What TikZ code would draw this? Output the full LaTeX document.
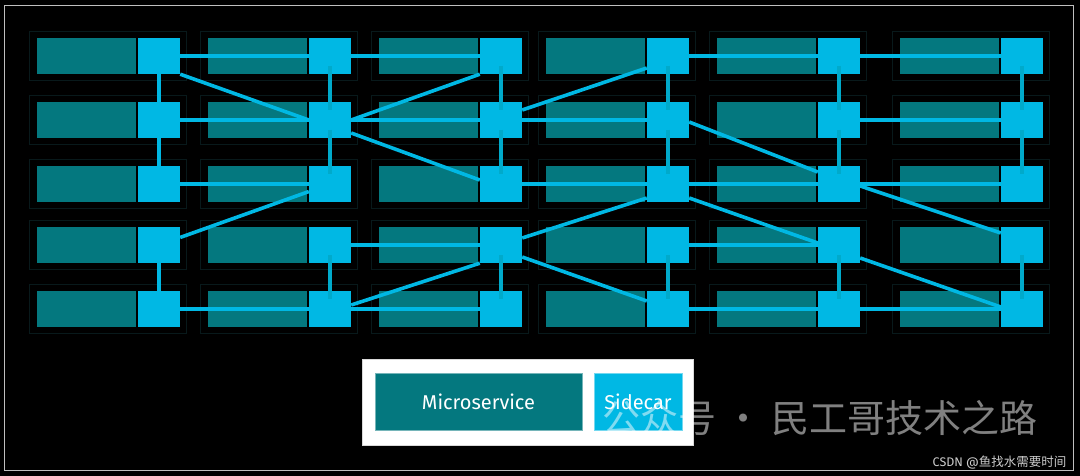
\documentclass[tikz,border=0pt]{standalone}
\usepackage{fontspec}
\setsansfont{Fira Sans}
\newfontfamily\cjkfont{Noto Sans CJK SC}
\usepackage{tikz}
\usetikzlibrary{backgrounds}
\definecolor{msteal}{HTML}{04787F}
\definecolor{sccyan}{HTML}{00B8E4}
\definecolor{vcyan}{HTML}{00AACB}
\definecolor{podline}{HTML}{08191B}
\tikzset{
  font=\sffamily,
  pod/.style={
    draw=podline, line width=0.8pt, inner sep=0pt,
    minimum width=157pt, minimum height=49pt
  },
  micro/.style={fill=msteal, inner sep=0pt, minimum width=99pt, minimum height=36pt},
  sidecar/.style={fill=sccyan, inner sep=0pt, minimum width=42pt, minimum height=36pt},
  wire/.style={draw=sccyan, line width=3.6pt},
  vwire/.style={draw=vcyan, line width=4pt},
  keybox/.style={
    draw=#1!55!white, fill=#1, text=white, inner sep=0pt,
    minimum height=57pt, font=\sffamily\fontsize{20}{23}\selectfont
  }
}
\begin{document}
\begin{tikzpicture}[x=1pt,y=-1pt]
  \useasboundingbox (0,0) rectangle (1080,476);
  \begin{pgfonlayer}{background}
    \fill[black] (0,0) rectangle (1080,476);
  \end{pgfonlayer}
  \draw[black!25!white, line width=1.5pt] (4.5,5.5) rectangle (1073.5,470.5);
  \foreach \c/\mx/\sx in {1/86.5/159, 2/257.5/330, 3/428.5/501, 4/595.5/668, 5/766.5/839, 6/949.5/1022} {
    \foreach \r/\y in {1/56, 2/120, 3/184, 4/245, 5/309} {
      \begin{pgfonlayer}{background}
        \node[pod] (pod\c\r) at (\mx+21.5,\y) {};
        \node[micro] (ms\c\r) at (\mx,\y) {};
      \end{pgfonlayer}
      \node[sidecar] (sc\c\r) at (\sx,\y) {};
    }
  }
  \begin{pgfonlayer}{background}
    \foreach \a/\b in {11/21, 21/31, 41/51, 51/61, 12/22, 22/32, 32/42, 52/62,
      13/23, 33/43, 43/53, 53/63, 24/34, 44/54, 15/25, 25/35, 45/55, 55/65,
      11/12, 12/13, 14/15}
      \draw[wire] (sc\a) -- (sc\b);
    % cross links
    \draw[wire] (sc11.south east) -- (sc22.west);
    \draw[wire] (sc14) -- (sc23);
    \draw[wire] (sc22.east) -- (sc31.south west);
    \draw[wire] ([yshift=-13pt]sc22.east) -- ([yshift=4pt]sc33.west);
    \draw[wire] ([yshift=4pt]sc25.east) -- (sc34.south west);
    \draw[wire] ([yshift=10pt]sc32.east) -- ([yshift=-12pt]sc41.west);
    \draw[wire] ([yshift=7pt]sc34.east) -- ([yshift=-14pt]sc43.west);
    \draw[wire] ([yshift=-12pt]sc34.east) -- ([yshift=8pt]sc45.west);
    \draw[wire] ([yshift=-2pt]sc42.east) -- ([yshift=12pt]sc53.west);
    \draw[wire] ([yshift=-14pt]sc43.east) -- ([yshift=2pt]sc54.west);
    \draw[wire] ([yshift=-2pt]sc53.east) -- ([yshift=12pt]sc64.west);
    \draw[wire] ([yshift=-13pt]sc54.east) -- ([yshift=2pt]sc65.west);
  \end{pgfonlayer}
  \foreach \c in {2,...,6} {
    \draw[vwire] ([yshift=-10pt]sc\c1.center) -- ([yshift=10pt]sc\c2.center);
    \draw[vwire] ([yshift=-10pt]sc\c2.center) -- ([yshift=10pt]sc\c3.center);
    \draw[vwire] ([yshift=-10pt]sc\c4.center) -- ([yshift=10pt]sc\c5.center);
  }
  \node[fill=white, draw=black!15, minimum width=331pt, minimum height=86pt] (key) at (527.5,402) {};
  \node[keybox=msteal, minimum width=207pt] (keyms) at (478.5,401.5) {Microservice};
  \node[keybox=sccyan, minimum width=88pt] (keysc) at (638,401.5) {Sidecar};
  \node[font=\cjkfont\fontsize{38}{40}\selectfont, text=white, text opacity=0.5] (mark) at (820,418) {公众号 · 民工哥技术之路};
  \node[font=\sffamily\fontsize{12.5}{14}\selectfont, text=black!20, anchor=east] (csdn) at (1070,463) {CSDN @{\cjkfont 鱼找水需要时间}};
\end{tikzpicture}
\end{document}
